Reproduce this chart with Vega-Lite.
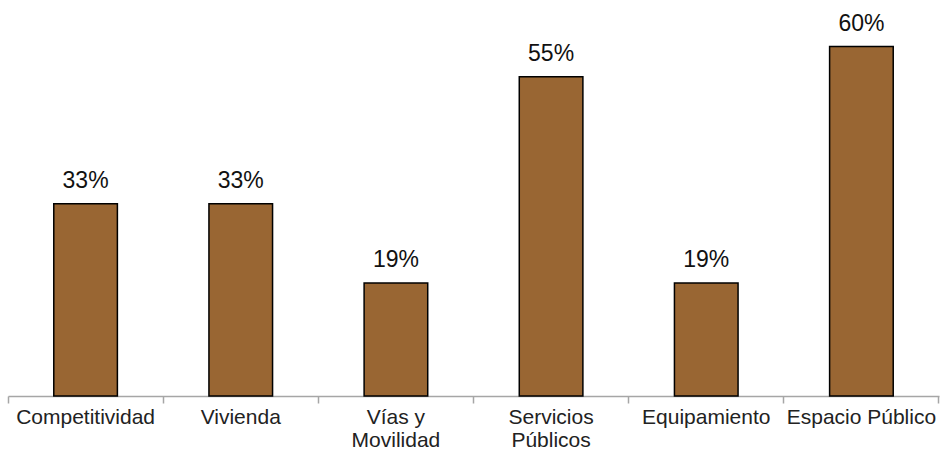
{
  "$schema": "https://vega.github.io/schema/vega-lite/v6.json",
  "width": 931,
  "height": 396,
  "autosize": {"type": "none"},
  "padding": {"left": 8, "top": 0, "right": 4, "bottom": 57},
  "background": "white",
  "config": {"view": {"stroke": null}, "font": "Liberation Sans"},
  "data": {"values": [
    {"categoria": "Competitividad", "valor": 33, "etiqueta": "33%"},
    {"categoria": "Vivienda", "valor": 33, "etiqueta": "33%"},
    {"categoria": "Vías y\nMovilidad", "valor": 19.4, "etiqueta": "19%"},
    {"categoria": "Servicios\nPúblicos", "valor": 54.8, "etiqueta": "55%"},
    {"categoria": "Equipamiento", "valor": 19.4, "etiqueta": "19%"},
    {"categoria": "Espacio Público", "valor": 60, "etiqueta": "60%"}
  ]},
  "encoding": {
    "x": {"field": "categoria", "type": "nominal", "sort": null,
      "scale": {"paddingInner": 0, "paddingOuter": 0},
      "axis": {"title": null, "labelAngle": 0, "labelExpr": "split(datum.label, '\\n')",
        "labelFont": "Liberation Sans", "labelFontSize": 21, "labelColor": "#222222",
        "labelPadding": 3, "labelLineHeight": 23,
        "domainColor": "#a6a6a6", "domainWidth": 1.5, "tickColor": "#a6a6a6", "tickWidth": 1.5, "tickSize": 7,
        "bandPosition": 1, "tickExtra": true, "grid": false}},
    "y": {"field": "valor", "type": "quantitative", "scale": {"domain": [0, 68]}, "axis": null}
  },
  "layer": [
    {"mark": {"type": "bar", "width": {"band": 0.41}, "color": "#996633", "stroke": "#000000", "strokeWidth": 1.5}},
    {"mark": {"type": "text", "baseline": "alphabetic", "dy": -16, "fontSize": 23, "font": "Liberation Sans", "color": "#111111"},
      "encoding": {"text": {"field": "etiqueta", "type": "nominal"}}}
  ]
}
